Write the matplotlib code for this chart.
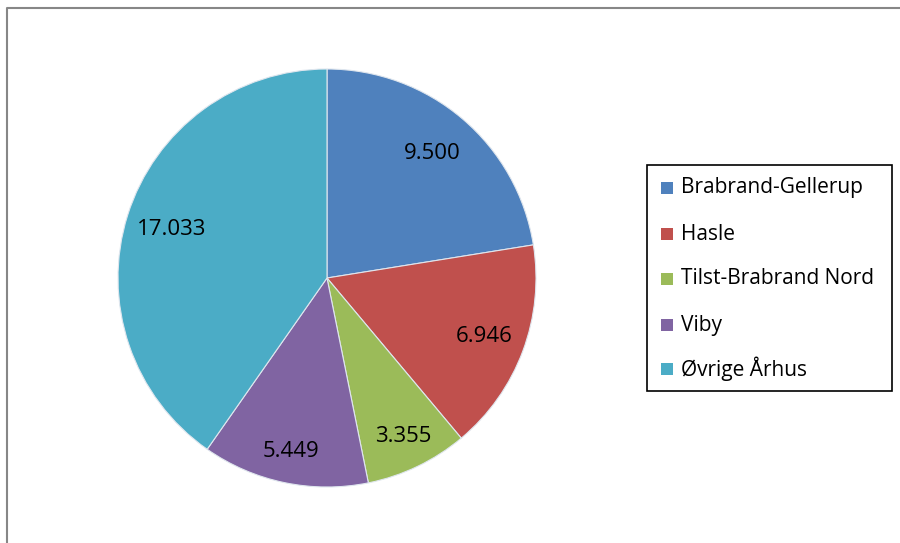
import matplotlib
matplotlib.use("Agg")
import matplotlib.pyplot as plt
from matplotlib.patches import Rectangle
import numpy as np

categories = ["Brabrand-Gellerup", "Hasle", "Tilst-Brabrand Nord", "Viby", "Øvrige Århus"]
values = [9500, 6946, 3355, 5449, 17033]
value_labels = ["9.500", "6.946", "3.355", "5.449", "17.033"]
colors = ["#4F81BD", "#C0504D", "#9BBB59", "#8064A2", "#4BACC6"]

plt.rcParams['font.family'] = ['Open Sans', 'DejaVu Sans']

W, H = 900, 543
fig = plt.figure(figsize=(9, 5.43), dpi=100)
ax = fig.add_axes([0, 0, 1, 1])

cx, cy, R = 327, H - 278, 209
wedges, _ = ax.pie(values, colors=colors, startangle=90, counterclock=False,
                   center=(cx, cy), radius=R, frame=True,
                   wedgeprops=dict(edgecolor="#dfe6ee", linewidth=0.8))
ax.set_xlim(0, W)
ax.set_ylim(0, H)
ax.set_aspect('equal')
ax.axis('off')

# chart area border
ax.plot([6.5, 6.5, W + 5], [-5, H - 7.5, H - 7.5], color="#878787", lw=1.5, solid_capstyle='butt')

for w, lab in zip(wedges, value_labels):
    ang = np.deg2rad((w.theta1 + w.theta2) / 2)
    r = 0.78 * R + 14 * max(0.0, -np.sin(ang))
    ax.text(cx + r * np.cos(ang), cy + r * np.sin(ang), lab, ha='center', va='center',
            fontsize=16, color='black')

# legend
ax.add_patch(Rectangle((646.5, H - 391), 245, 226, fill=False, edgecolor='black', lw=1.2))
ys = [188, 234, 279, 325, 369]
for c, name, y in zip(colors, categories, ys):
    ax.add_patch(Rectangle((661, H - y - 6), 12, 12, facecolor=c, edgecolor='none'))
    ax.text(681, H - y, name, ha='left', va='center', fontsize=15, color='black')

fig.savefig("out.png", dpi=100)
